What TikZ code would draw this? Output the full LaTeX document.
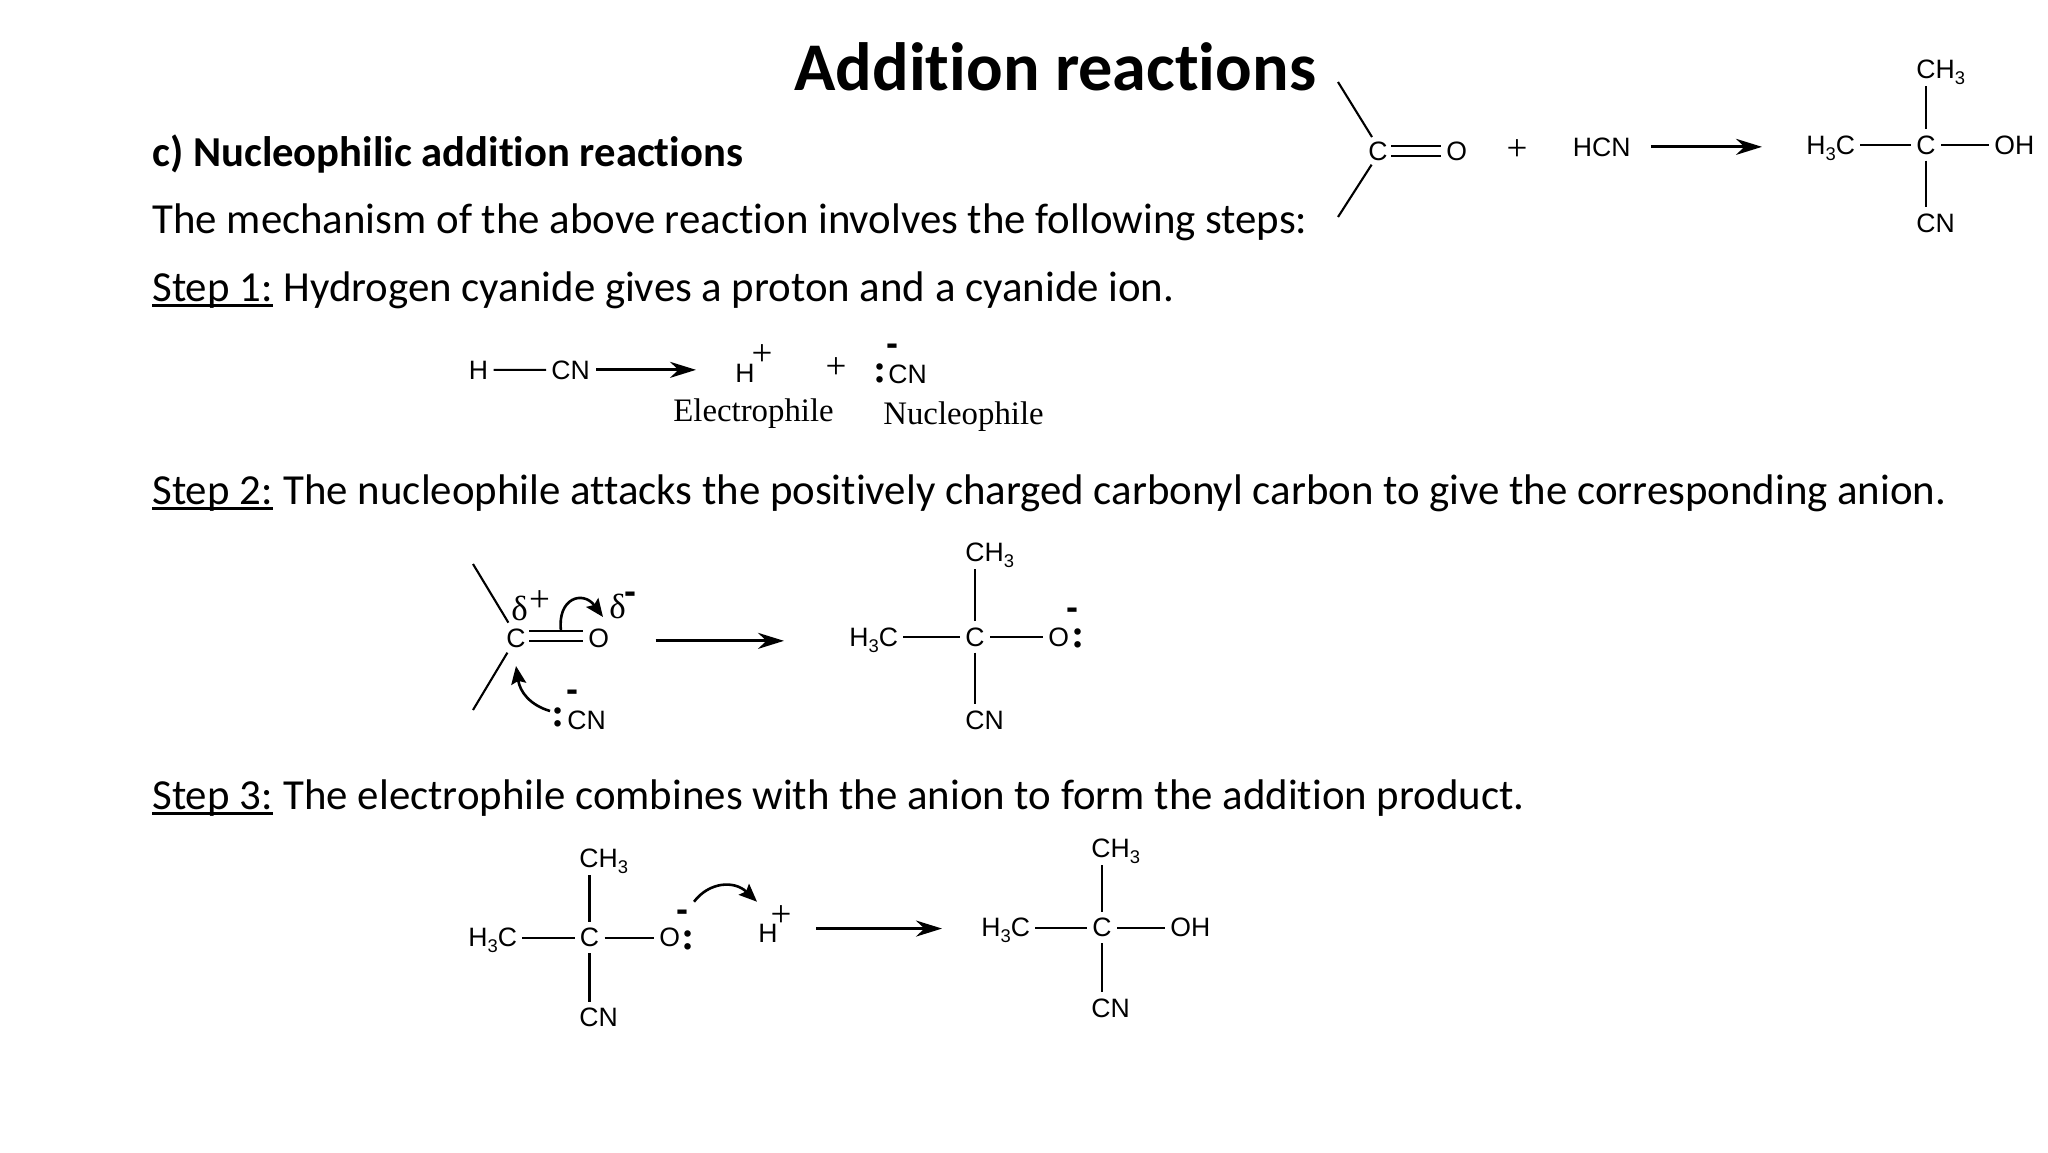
\documentclass[tikz,border=0pt]{standalone}
\usepackage{fontspec}
\setmainfont[Ligatures=CommonOff]{Carlito}
\newfontfamily\chemf{Liberation Sans}
\newfontfamily\timesf{Liberation Serif}
\usetikzlibrary{arrows.meta}
\newcommand{\subn}[1]{\raisebox{-3pt}{\fontsize{9.2pt}{9.2pt}\selectfont #1}}
\newlength\ulw
\newcommand{\ulin}[1]{\settowidth\ulw{#1}\rlap{\rule[-2.8pt]{\ulw}{1.1pt}}#1\hspace{-1pt}}
\tikzset{
  atom/.style={inner sep=0pt,anchor=base west,font=\chemf\fontsize{13.3pt}{15pt}\selectfont},
  bodytext/.style={inner sep=0pt,anchor=base west,font=\fontsize{21.42pt}{25pt}\selectfont},
  headtext/.style={inner sep=0pt,anchor=base west,font=\bfseries\fontsize{21.33pt}{25pt}\selectfont},
  titletext/.style={inner sep=0pt,anchor=base west,font=\bfseries\fontsize{34.13pt}{40pt}\selectfont},
  labeltext/.style={inner sep=0pt,anchor=base west,font=\timesf\fontsize{16.4pt}{20pt}\selectfont},
  plussign/.style={inner sep=0pt,anchor=center,yshift=-1.2pt,font=\timesf\fontsize{18.5pt}{20pt}\selectfont},
  deltasign/.style={inner sep=0pt,anchor=base west,font=\timesf\fontsize{17.5pt}{20pt}\selectfont},
  minussign/.style={inner sep=0pt,anchor=center,yshift=-2pt,font=\chemf\bfseries\fontsize{18pt}{20pt}\selectfont},
  lonepair/.style={inner sep=0pt,anchor=base,font=\timesf\bfseries\fontsize{20pt}{22pt}\selectfont},
  bond/.style={draw=black,line width=1.05pt},
  hbond/.style={bond,shorten <=2.5pt,shorten >=2.5pt},
  vup/.style={bond,shorten <=3pt,shorten >=0.5pt},
  vdn/.style={bond,shorten <=3pt,shorten >=3pt},
  dbond/.style={bond,shorten <=1.5pt,shorten >=2.5pt},
  rxn/.style={draw=black,line width=1.5pt,-{Stealth[length=13pt,width=8pt]}},
  curly/.style={draw=black,line width=1.3pt,-{Stealth[length=9pt,width=7.5pt,inset=1.5pt]}},
}
\begin{document}
\begin{tikzpicture}[x=0.5pt,y=-0.5pt]
\useasboundingbox (0,0) rectangle (2048,1152);
\fill[white] (0,0) rectangle (2048,1152);

% text
\node[titletext] (title) at (794,90) {Addition reactions};
\node[headtext] (head) at (152,166) {c) Nucleophilic addition reactions};
\node[bodytext] (mech) at (152,233) {The mechanism of the above reaction involves the following steps:};
\node[bodytext] (s1) at (152,301) {\ulin{Step 1:} Hydrogen cyanide gives a proton and a cyanide ion.};
\node[bodytext] (s2) at (152,504) {\ulin{Step 2:} The nucleophile attacks the positively charged carbonyl carbon to give the corresponding anion.};
\node[bodytext] (s3) at (152,809) {\ulin{Step 3:} The electrophile combines with the anion to form the addition product.};

% top right reaction
\node[atom] (ac) at (1368,160) {C};
\node[atom] (ao) at (1446,160) {O};
\coordinate (au) at (1338,82);
\coordinate (al) at (1338,217);
\draw[bond] (au) -- ([shift={(2pt,2pt)}]ac.north west);
\draw[bond] (al) -- ([shift={(1.8pt,-2pt)}]ac.south west);
\draw[dbond] ([yshift=2.5pt]ac.east) -- ([yshift=2.5pt]ao.west);
\draw[dbond] ([yshift=-2.5pt]ac.east) -- ([yshift=-2.5pt]ao.west);
\node[plussign] (aplus) at (1517,148) {+};
\node[atom] (ahcn) at (1572.5,156) {HCN};
\node[atom] (ah3c) at (1806,154) {H\subn{3}C};
\node[atom] (apc) at (1916,154) {C};
\node[atom] (aoh) at (1994,154) {OH};
\node[atom] (ach3) at (1916,78) {CH\subn{3}};
\node[atom] (acn) at (1916,232) {CN};
\draw[hbond] (ah3c.east |- apc.center) -- (apc.west);
\draw[hbond] (apc.east) -- (aoh.west |- apc.center);
\draw[vup] (apc.north) -- (apc.north |- ach3.south);
\draw[vdn] (apc.south) -- (apc.south |- acn.north);
\draw[rxn,shorten <=10pt,shorten >=22pt] (ahcn.east) -- (ahcn.east -| ah3c.west);

% step 1
\node[atom] (bh) at (468.5,379) {H};
\node[atom] (bcn) at (551,379) {CN};
\draw[hbond] (bh.east) -- (bcn.west);
\node[atom] (bhp) at (735,382.7) {H};
\node[plussign] (bpl) at (762,353) {+};
\node[plussign] (bplus) at (836,365.7) {+};
\node[minussign] (bmin) at (892,346) {-};
\node[lonepair] (bcol) at (880,382.5) {:};
\node[atom] (bcn2) at (888,383) {CN};
\draw[rxn,shorten <=3pt,shorten >=19.5pt] (bcn.east) -- (bcn.east -| bhp.west);
\node[labeltext] (elec) at (673,421.7) {Electrophile};
\node[labeltext] (nucl) at (883,424) {Nucleophile};

% step 2 reactant
\node[atom] (cc) at (506,647) {C};
\node[atom] (co) at (588,647) {O};
\coordinate (cu) at (473,564);
\coordinate (cl) at (473,710);
\draw[bond] (cu) -- ([shift={(1.2pt,2.7pt)}]cc.north west);
\draw[bond] (cl) -- ([shift={(.7pt,-2.5pt)}]cc.south west);
\draw[dbond] ([yshift=3.5pt]cc.east) -- ([yshift=3.5pt]co.west);
\draw[dbond] ([yshift=-1.5pt]cc.east) -- ([yshift=-1.5pt]co.west);
\node[deltasign] (cd1) at (511,620.7) {δ};
\node[plussign] (cpl) at (539.5,599) {+};
\node[deltasign] (cd2) at (609,618) {δ};
\node[minussign] (cmi) at (630,594) {-};
\node[minussign] (cmin) at (572,691.7) {-};
\node[lonepair] (ccol) at (558.5,726.5) {:};
\node[atom] (ccn) at (567,729) {CN};
\coordinate (cs1) at (561,631);
\coordinate (ct1) at (603,617);
\coordinate (cs2) at (550,711);
\coordinate (ct2) at (516,666);
\draw[curly] (cs1) .. controls (557,598) and (583,590) .. (ct1);
\draw[curly] (cs2) .. controls (530,705) and (520,692) .. (ct2);

% step 2 product
\node[atom] (dh3c) at (849,646) {H\subn{3}C};
\node[atom] (dc) at (965,646) {C};
\node[atom] (do) at (1048,646) {O};
\node[lonepair] (dcol) at (1078,647.5) {:};
\node[minussign] (dmin) at (1072,610) {-};
\node[atom] (dch3) at (965,561.7) {CH\subn{3}};
\node[atom] (dcn) at (965,729) {CN};
\draw[hbond] (dh3c.east |- dc.center) -- (dc.west);
\draw[hbond] (dc.east) -- (do.west |- dc.center);
\draw[vup] (dc.north) -- (dc.north |- dch3.south);
\draw[vdn] (dc.south) -- (dc.south |- dcn.north);
\draw[rxn,shorten <=23pt,shorten >=32.5pt] ([yshift=-1.5pt]co.east) -- ([yshift=-1.5pt]co.east -| dh3c.west);

% step 3 reactant
\node[atom] (eh3c) at (468,946.7) {H\subn{3}C};
\node[atom] (ec) at (579.5,946.7) {C};
\node[atom] (eo) at (659,946.7) {O};
\node[lonepair] (ecol) at (688.5,949) {:};
\node[minussign] (emin) at (682,912) {-};
\node[atom] (ech3) at (579,867) {CH\subn{3}};
\node[atom] (ecn) at (579,1026.7) {CN};
\draw[hbond] (eh3c.east |- ec.center) -- (ec.west);
\draw[hbond] (ec.east) -- (eo.west |- ec.center);
\draw[vup] (ec.north) -- (ec.north |- ech3.south);
\draw[vdn] (ec.south) -- (ec.south |- ecn.north);
\node[atom] (ehp) at (758,942.7) {H};
\node[plussign] (epl) at (781,914) {+};
\coordinate (es) at (694,901.7);
\coordinate (et) at (757,901.7);
\draw[curly] (es) .. controls (709,882) and (734,880) .. (et);

% step 3 product
\node[atom] (fh3c) at (981,936.7) {H\subn{3}C};
\node[atom] (fc) at (1092,936.7) {C};
\node[atom] (foh) at (1170,936.7) {OH};
\node[atom] (fch3) at (1091,857) {CH\subn{3}};
\node[atom] (fcn) at (1091,1017) {CN};
\draw[hbond] (fh3c.east |- fc.center) -- (fc.west);
\draw[hbond] (fc.east) -- (foh.west |- fc.center);
\draw[vup] (fc.north) -- (fc.north |- fch3.south);
\draw[vdn] (fc.south) -- (fc.south |- fcn.north);
\draw[rxn,shorten <=19pt,shorten >=19.5pt] ([yshift=2.5pt]ehp.east) -- ([yshift=2.5pt]ehp.east -| fh3c.west);
\end{tikzpicture}
\end{document}
